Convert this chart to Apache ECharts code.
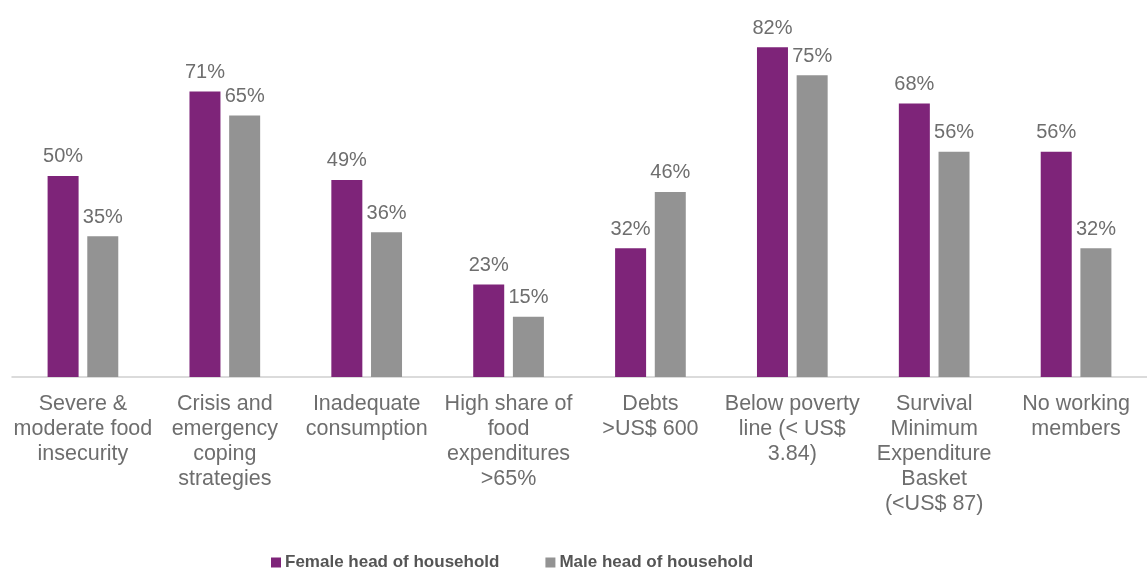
<!DOCTYPE html>
<html>
<head>
<meta charset="utf-8">
<script src="https://cdn.jsdelivr.net/npm/echarts@6/dist/echarts.min.js"></script>
<style>
html,body{margin:0;padding:0;background:#fff;}
#chart{width:1147px;height:574px;}
</style>
</head>
<body>
<div id="chart"></div>
<script>
const categories = [
  "Severe &\nmoderate food\ninsecurity",
  "Crisis and\nemergency\ncoping\nstrategies",
  "Inadequate\nconsumption",
  "High share of\nfood\nexpenditures\n>65%",
  "Debts\n>US$ 600",
  "Below poverty\nline (< US$\n3.84)",
  "Survival\nMinimum\nExpenditure\nBasket\n(<US$ 87)",
  "No working\nmembers"
];
const femaleValues = [50, 71, 49, 23, 32, 82, 68, 56];
const maleValues = [35, 65, 36, 15, 46, 75, 56, 32];
const seriesNames = ["Female head of household", "Male head of household"];

const FONT = '"Liberation Sans", Arial, sans-serif';
const chart = echarts.init(document.getElementById('chart'));
const labelCfg = {
  show: true,
  position: 'top',
  distance: 9,
  formatter: '{c}%',
  color: '#6e6e6e',
  fontSize: 20,
  fontFamily: FONT
};
chart.setOption({
  animation: false,
  grid: { left: 12, width: 1142, top: 15, bottom: 197, containLabel: false },
  legend: {
    left: 266,
    top: 549,
    itemWidth: 10,
    itemHeight: 10,
    itemGap: 46,
    icon: 'rect',
    textStyle: { fontSize: 17, fontWeight: 'bold', color: '#555555', fontFamily: FONT, padding: [0, 0, 0, -1] },
    data: seriesNames
  },
  xAxis: {
    type: 'category',
    data: categories,
    axisLine: { show: true, lineStyle: { color: '#d0d0d0', width: 1.5 } },
    axisTick: { show: false },
    axisLabel: {
      interval: 0,
      margin: 15,
      color: '#6e6e6e',
      fontSize: 21.5,
      lineHeight: 25,
      fontFamily: FONT,
      align: 'center',
      verticalAlign: 'top'
    }
  },
  yAxis: {
    type: 'value',
    min: 0,
    max: 90,
    show: false,
    splitLine: { show: false }
  },
  series: [
    {
      name: seriesNames[0],
      type: 'bar',
      data: femaleValues,
      barWidth: 31,
      barGap: '28%',
      itemStyle: { color: '#7e2479' },
      label: labelCfg
    },
    {
      name: seriesNames[1],
      type: 'bar',
      data: maleValues,
      barWidth: 31,
      itemStyle: { color: '#939393' },
      label: labelCfg
    }
  ]
});
</script>
</body>
</html>
